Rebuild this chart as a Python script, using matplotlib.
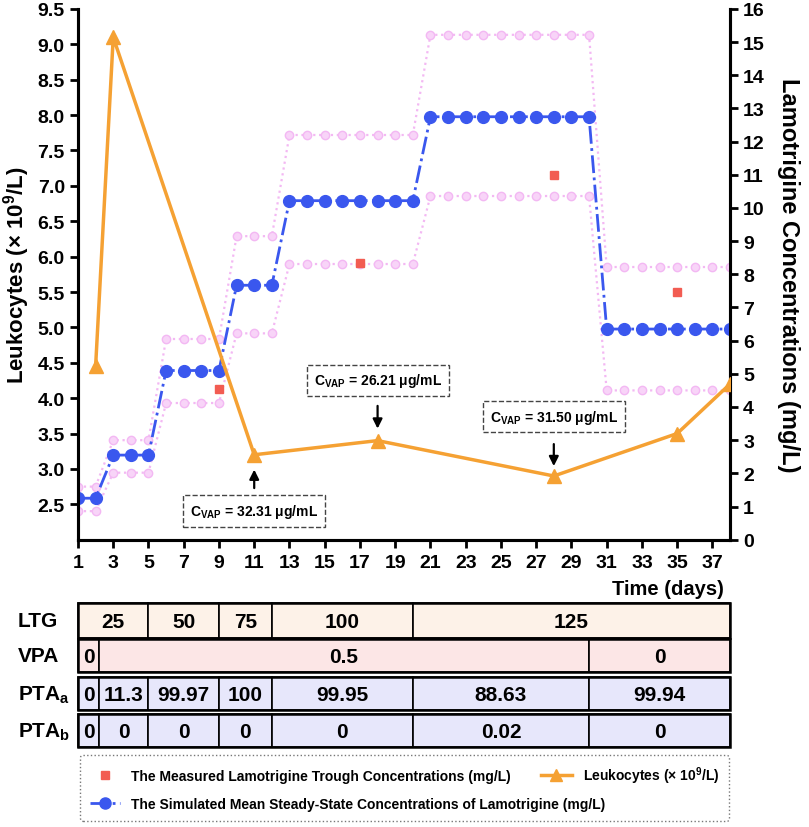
import matplotlib
matplotlib.use("Agg")
import matplotlib.pyplot as plt
import matplotlib.transforms as mtransforms
from matplotlib.lines import Line2D
from matplotlib.patches import Rectangle

plt.rcParams['font.family'] = ['Liberation Sans', 'DejaVu Sans']
plt.rcParams['font.weight'] = 'bold'
plt.rcParams['mathtext.fontset'] = 'custom'
plt.rcParams['mathtext.rm'] = 'Liberation Sans:bold'
plt.rcParams['mathtext.bf'] = 'Liberation Sans:bold'
plt.rcParams['mathtext.it'] = 'Liberation Sans:bold'

# leukocytes (x 10^9/L), left axis
leuko_days = [2, 3, 11, 18, 28, 35, 38]
leuko = [4.45, 9.1, 3.2, 3.4, 2.9, 3.5, 4.2]

# simulated lamotrigine concentrations (mg/L), right axis
sim_days = list(range(1, 39))
sim_mean = [1.25] * 2 + [2.55] * 3 + [5.1] * 4 + [7.67] * 3 + [10.22] * 8 + [12.75] * 10 + [6.35] * 8
sim_upper = [1.6] * 2 + [3.0] * 3 + [6.05] * 4 + [9.15] * 3 + [12.2] * 8 + [15.22] * 10 + [8.22] * 8
sim_lower = [0.86] * 2 + [2.02] * 3 + [4.12] * 4 + [6.22] * 3 + [8.31] * 8 + [10.36] * 10 + [4.5] * 8

# measured trough concentrations (mg/L)
meas_days = [9, 17, 28, 35]
meas = [4.55, 8.33, 10.98, 7.47]

# VPA concentration notes
vap_days = [11, 18, 28]
vap_text = ["32.31", "26.21", "31.50"]

# table rows: (cell edges in days, cell labels)
ltg_edges = [1, 5, 9, 12, 20, 38]
ltg_vals = ["25", "50", "75", "100", "125"]
vpa_edges = [1, 2.2, 30, 38]
vpa_vals = ["0", "0.5", "0"]
pta_edges = [1, 2.2, 5, 9, 12, 20, 30, 38]
pta_a_vals = ["0", "11.3", "99.97", "100", "99.95", "88.63", "99.94"]
pta_b_vals = ["0", "0", "0", "0", "0", "0.02", "0"]

orange = '#f5a133'
blue = '#3a57ee'
pink = '#f3b8f3'
red = '#f25c52'

fig = plt.figure(figsize=(8.09, 8.28), dpi=100)
ax = fig.add_axes([0.0964, 0.347, 0.806, 0.641])
ax2 = ax.twinx()

# right axis: concentrations
ax2.plot(sim_days, sim_upper, linestyle=':', color=pink, lw=1.6, marker='o', ms=6,
         mfc='#f8d4f8', mec=pink, zorder=1)
ax2.plot(sim_days, sim_lower, linestyle=':', color=pink, lw=1.6, marker='o', ms=6,
         mfc='#f8d4f8', mec=pink, zorder=1)
ax2.plot(sim_days, sim_mean, linestyle='-.', color=blue, lw=2, marker='o', ms=8.5,
         mec=blue, mfc=blue, zorder=2)
ax2.plot(meas_days, meas, linestyle='none', marker='s', ms=6, color=red, zorder=3)

# leukocytes drawn through the left scale but on top
leuko_r = [(v - 2.0) / 7.5 * 16 for v in leuko]
ax2.plot(leuko_days, leuko_r, color=orange, lw=2.5, marker='^', ms=10, zorder=4)

ax.set_xlim(1, 38)
ax.set_ylim(2.0, 9.5)
ax2.set_ylim(0, 16)
ax.set_xticks(range(1, 38, 2))
ax.set_yticks([2.5 + 0.5 * i for i in range(15)])
ax.set_yticklabels([f"{2.5 + 0.5 * i:.1f}" for i in range(15)])
ax2.set_yticks(range(0, 17))

for a in (ax, ax2):
    for s in a.spines.values():
        s.set_linewidth(2.2)
    a.spines['top'].set_visible(False)
    a.tick_params(width=2, length=6, labelsize=14)
ax.tick_params(axis='x', pad=4)

ax.set_ylabel("Leukocytes (× 10$^9$/L)", fontsize=16, fontweight='bold', labelpad=4)
ax2.set_ylabel("Lamotrigine Concentrations (mg/L)", fontsize=17, fontweight='bold',
               rotation=270, labelpad=25)
ax.set_xlabel("Time (days)", loc='right', fontsize=14.5, fontweight='bold', labelpad=6)
ax.xaxis.label.set_x(0.99)

# annotation boxes and arrows (left axis units)
box_y = [2.41, 4.25, 3.74]
arrow_tail = [2.69, 3.93, 3.39]
arrow_head = [3.03, 3.53, 3.0]
for d, t, by, at, ah in zip(vap_days, vap_text, box_y, arrow_tail, arrow_head):
    ax.annotate("", xy=(d, ah), xytext=(d, at),
                arrowprops=dict(arrowstyle='-|>', color='k', lw=1.6, mutation_scale=14),
                zorder=6)
    ax2.text(d, (by - 2.0) / 7.5 * 16, "C$_{VAP}$ = " + t + " μg/mL", ha='center', va='center',
             fontsize=10, fontweight='bold', zorder=6,
             bbox=dict(boxstyle='square,pad=0.5', fc='white', ec='#444444', ls='--', lw=1))

# dosing / PTA table
tab = fig.add_axes([0.0964, 0.09, 0.806, 0.185])
tab.set_xlim(1, 38)
tab.set_ylim(753, 600)
tab.axis('off')

rows = [
    ("LTG", ltg_edges, ltg_vals, '#fdf2e8', 604, 639),
    ("VPA", vpa_edges, vpa_vals, '#fce6e6', 640, 673),
    ("PTA$_a$", pta_edges, pta_a_vals, '#e7e7fb', 678, 711),
    ("PTA$_b$", pta_edges, pta_b_vals, '#e7e7fb', 715, 748),
]
lab_tr = mtransforms.blended_transform_factory(fig.transFigure, tab.transData)
for name, edges, vals, fc, y0, y1 in rows:
    for i, v in enumerate(vals):
        tab.add_patch(Rectangle((edges[i], y0), edges[i + 1] - edges[i], y1 - y0,
                                fc=fc, ec='k', lw=1.2, clip_on=False))
        tab.text((edges[i] + edges[i + 1]) / 2, (y0 + y1) / 2 + 1, v, ha='center', va='center',
                 fontsize=15, fontweight='bold')
    tab.add_patch(Rectangle((edges[0], y0), edges[-1] - edges[0], y1 - y0,
                            fc='none', ec='k', lw=1.8, clip_on=False))
    tab.text(0.022, (y0 + y1) / 2, name, transform=lab_tr, ha='left', va='center',
             fontsize=15, fontweight='bold')

handles = [
    Line2D([], [], ls='none', marker='s', ms=6, color=red),
    Line2D([], [], ls='-.', lw=2, marker='o', ms=8, color=blue),
    Line2D([], [], ls='-', lw=2.5, marker='^', ms=9, color=orange),
]
labels = [
    "The Measured Lamotrigine Trough Concentrations (mg/L)",
    "The Simulated Mean Steady-State Concentrations of Lamotrigine (mg/L)",
    "Leukocytes (× 10$^9$/L)",
]
leg = fig.legend(handles, labels, ncol=2, loc='upper left',
                 bbox_to_anchor=(0.099, 0.003, 0.802, 0.0843), mode='expand',
                 fontsize=10, handlelength=2.2, columnspacing=1.0, labelspacing=1.0,
                 fancybox=True, borderpad=0.7, borderaxespad=0)
frame = leg.get_frame()
frame.set_linestyle(':')
frame.set_edgecolor('#555555')
frame.set_linewidth(1)
for txt in leg.get_texts():
    txt.set_fontweight('bold')

fig.savefig("out.png", dpi=100)
